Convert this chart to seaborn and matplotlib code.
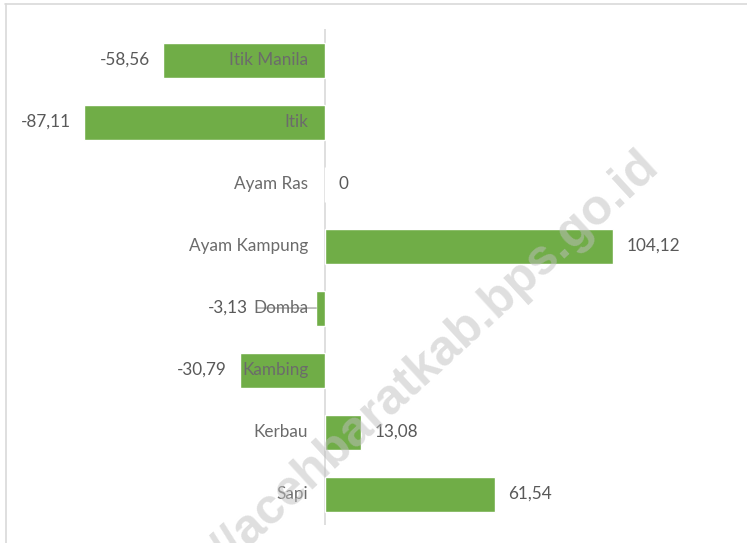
import matplotlib
matplotlib.use("Agg")
import matplotlib.pyplot as plt
from matplotlib.lines import Line2D
import seaborn as sns
import pandas as pd

categories = ['Itik Manila', 'Itik', 'Ayam Ras', 'Ayam Kampung', 'Domba', 'Kambing', 'Kerbau', 'Sapi']
values = [-58.56, -87.11, 0, 104.12, -3.13, -30.79, 13.08, 61.54]
watermark = 'https://acehbaratkab.bps.go.id'

df = pd.DataFrame({'Jenis': categories, 'Nilai': values})

sns.set_theme(style='white')
plt.rcParams['font.family'] = ['Lato', 'DejaVu Sans']

green = '#70AD47'
txt = '#595959'

fig = plt.figure(figsize=(7.47, 5.43), dpi=100)
ax = fig.add_axes([0, 0.0331, 1, 0.9134])

sns.barplot(data=df, x='Nilai', y='Jenis', orient='h', color=green,
            width=0.565, saturation=1, ax=ax)

ax.set_xlim(-117.5, 152.6)
ax.set_ylim(len(categories) - 0.5, -0.5)
ax.axvline(0, color='#d9d9d9', lw=1.2, zorder=0)
for s in ax.spines.values():
    s.set_visible(False)
ax.set_xticks([])
ax.set_yticks([])
ax.set_xlabel('')
ax.set_ylabel('')

def fmt(v):
    if v == 0:
        return '0'
    return f'{v:.2f}'.replace('.', ',')

# category labels next to the zero line
for i, cat in enumerate(categories):
    ax.annotate(cat, xy=(0, i), xytext=(-12, 0), textcoords='offset points',
                ha='right', va='center', fontsize=12.3, color='#6b6b6b', zorder=5)

# value labels
for i, v in enumerate(values):
    if v < 0 and abs(v) < 10:
        # small bar: label pushed out with a leader line
        ax.annotate(fmt(v), xy=(v, i), xytext=(-49, 0), textcoords='offset points',
                    ha='right', va='center', fontsize=12.3, color=txt,
                    arrowprops=dict(arrowstyle='-', color='#a6a6a6', lw=1,
                                    shrinkA=4, shrinkB=0))
    elif v < 0:
        ax.annotate(fmt(v), xy=(v, i), xytext=(-9.5, 0), textcoords='offset points',
                    ha='right', va='center', fontsize=12.3, color=txt)
    else:
        ax.annotate(fmt(v), xy=(v, i), xytext=(9.5, 0), textcoords='offset points',
                    ha='left', va='center', fontsize=12.3, color=txt)

# watermark
fig.text(0.884, 0.69, watermark, rotation=42.5, rotation_mode='anchor',
         ha='right', va='baseline', fontsize=36, fontweight='bold',
         color='#bfbfbf', alpha=0.5, family='Liberation Sans', zorder=10)

# outer frame (top and left edges visible)
fig.add_artist(Line2D([5 / 747, 1], [1 - 4 / 543, 1 - 4 / 543],
                      transform=fig.transFigure, color='#d9d9d9', lw=1.2))
fig.add_artist(Line2D([6 / 747, 6 / 747], [0, 1 - 4 / 543],
                      transform=fig.transFigure, color='#d9d9d9', lw=1.2))

fig.savefig('out.png', dpi=100)
